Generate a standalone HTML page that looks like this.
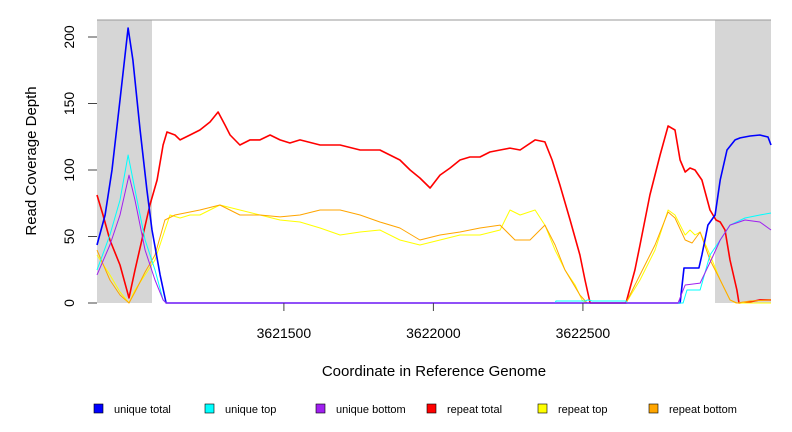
<!DOCTYPE html>
<html><head><meta charset="utf-8"><style>
body{margin:0;background:#fff;}
svg{display:block;font-family:"Liberation Sans",sans-serif;}
</style></head><body>
<svg id="chart" width="792" height="432" viewBox="0 0 792 432">
<rect x="97" y="20" width="55" height="283" fill="#d6d6d6"/>
<rect x="715" y="20" width="56" height="283" fill="#d6d6d6"/>
<line x1="97" y1="20" x2="771" y2="20" stroke="#999" stroke-width="1"/>
<g id="series"></g>
<g id="axes"></g>
<text x="434" y="376" font-size="15" text-anchor="middle">Coordinate in Reference Genome</text>
<text transform="translate(36,161) rotate(-90)" font-size="15" text-anchor="middle">Read Coverage Depth</text>
<g id="legend"></g>
</svg>
<script>
const xTicks=[3621500,3622000,3622500];
const yTicks=[0,50,100,150,200];
const seriesNames=["repeat total","repeat top","repeat bottom","unique total","unique top","unique bottom"];
const legendOrder=["unique total","unique top","unique bottom","repeat total","repeat top","repeat bottom"];
const colors={"unique total":"#0000ff","unique top":"#00ffff","unique bottom":"#a020f0","repeat total":"#ff0000","repeat top":"#ffff00","repeat bottom":"#ffa500"};
// points as [pixel-read x, pixel-read y] converted below into genome coordinate / depth
const blueRaw=[[97,245],[105,215],[112,170],[120,100],[128,28],[133,60],[140,130],[147,190],[152,230],[160,275],[166,303],[680,303],[684,268],[699,268],[702,255],[708,225],[715,215],[720,180],[727,150],[735,140],[740,138],[750,136],[760,135],[768,137],[771,145]];
const cyanRaw=[[97,270],[110,235],[120,200],[128,155],[135,190],[145,240],[155,270],[163,300],[166,303],[555,303],[556,301],[585,301],[588,300],[592,301],[626,301],[627,303],[683,303],[687,290],[700,290],[710,255],[720,240],[730,225],[745,218],[760,215],[771,213]];
const purpleRaw=[[97,275],[110,245],[120,215],[129,175],[135,200],[145,250],[155,280],[163,300],[166,303],[678,303],[685,285],[700,283],[712,258],[720,240],[730,225],[745,220],[760,222],[771,230]];
const redRaw=[[97,195],[103,215],[110,240],[120,265],[129,298],[135,270],[143,235],[150,205],[157,180],[163,145],[167,132],[175,135],[180,140],[190,135],[200,130],[210,122],[218,112],[225,125],[230,135],[240,145],[250,140],[260,140],[270,135],[280,140],[290,143],[300,140],[320,145],[340,145],[360,150],[380,150],[400,160],[410,170],[420,178],[430,188],[440,175],[450,168],[460,160],[470,157],[480,157],[490,152],[500,150],[510,148],[520,150],[535,140],[545,142],[552,160],[560,185],[570,220],[580,255],[585,280],[590,303],[626,303],[635,270],[640,245],[650,195],[660,155],[668,126],[675,130],[680,160],[685,172],[690,168],[695,170],[702,180],[710,210],[716,220],[720,222],[725,230],[730,260],[737,290],[739,303],[750,302],[760,300],[771,300]];
const yellowRaw=[[97,255],[110,275],[120,292],[129,303],[135,290],[145,275],[155,260],[165,230],[170,215],[180,218],[190,215],[200,215],[220,205],[240,210],[260,215],[280,220],[300,222],[320,228],[340,235],[360,232],[380,230],[400,240],[420,245],[440,240],[460,235],[480,235],[500,230],[510,210],[520,215],[535,210],[545,225],[555,250],[565,270],[575,285],[582,300],[586,303],[626,303],[640,280],[655,250],[668,210],[675,215],[685,235],[690,230],[695,235],[700,232],[710,255],[720,280],[730,300],[736,303],[771,303]];
const orangeRaw=[[97,250],[110,280],[120,295],[129,303],[135,292],[145,272],[155,255],[165,220],[175,215],[200,210],[220,205],[240,215],[260,215],[280,217],[300,215],[320,210],[340,210],[360,215],[380,222],[400,228],[420,240],[440,235],[460,232],[480,228],[500,225],[515,240],[530,240],[545,225],[555,245],[565,270],[580,295],[587,303],[626,303],[640,275],[655,245],[668,212],[675,218],[685,240],[692,243],[700,232],[710,260],[720,280],[730,300],[737,303],[750,301],[771,300]];
function toData(raw){return raw.map(p=>[Math.round(3620875+(p[0]-97)*500/149.5),+( (303-p[1])/1.33).toFixed(1)]);}
const uniqueTotal=toData(blueRaw),uniqueTop=toData(cyanRaw),uniqueBottom=toData(purpleRaw);
const repeatTotal=toData(redRaw),repeatTop=toData(yellowRaw),repeatBottom=toData(orangeRaw);
const seriesData={"repeat total":repeatTotal,"repeat top":repeatTop,"repeat bottom":repeatBottom,"unique total":uniqueTotal,"unique top":uniqueTop,"unique bottom":uniqueBottom};
const xMin=3620875,xMax=3623129,yMinPx=303,yScale=1.33;
function X(g){return 97+(g-xMin)*(771-97)/(xMax-xMin);}
function Y(v){return yMinPx-v*yScale;}
const NS="http://www.w3.org/2000/svg";
const sg=document.getElementById('series');
seriesNames.forEach(n=>{
  const pl=document.createElementNS(NS,'polyline');
  pl.setAttribute('points',seriesData[n].map(d=>X(d[0]).toFixed(1)+','+Y(d[1]).toFixed(1)).join(' '));
  pl.setAttribute('fill','none');
  pl.setAttribute('stroke',colors[n]);
  pl.setAttribute('stroke-width',(n.endsWith('total'))?1.6:1);
  pl.setAttribute('stroke-linejoin','round');
  
  
  sg.appendChild(pl);
});
const ax=document.getElementById('axes');
yTicks.forEach(v=>{
  const l=document.createElementNS(NS,'line');
  l.setAttribute('x1',88);l.setAttribute('x2',97);l.setAttribute('y1',Y(v));l.setAttribute('y2',Y(v));
  l.setAttribute('stroke','#444');
  
  
  ax.appendChild(l);
  const t=document.createElementNS(NS,'text');
  t.setAttribute('transform','translate(74,'+Y(v)+') rotate(-90)');
  t.setAttribute('text-anchor','middle');t.setAttribute('font-size','14');
  t.textContent=v;
  
  
  ax.appendChild(t);
});
xTicks.forEach(v=>{
  const l=document.createElementNS(NS,'line');
  l.setAttribute('x1',X(v));l.setAttribute('x2',X(v));l.setAttribute('y1',303);l.setAttribute('y2',311);
  l.setAttribute('stroke','#444');
  
  
  ax.appendChild(l);
  const t=document.createElementNS(NS,'text');
  t.setAttribute('x',X(v));t.setAttribute('y',338);
  t.setAttribute('text-anchor','middle');t.setAttribute('font-size','14');
  t.textContent=v;
  
  
  ax.appendChild(t);
});
const lg=document.getElementById('legend');
const lx=[94,205,316,427,538,649];
legendOrder.forEach((n,i)=>{
  const r=document.createElementNS(NS,'rect');
  r.setAttribute('x',lx[i]);r.setAttribute('y',404);r.setAttribute('width',9);r.setAttribute('height',9);
  r.setAttribute('fill',colors[n]);r.setAttribute('stroke','#000');r.setAttribute('stroke-width',0.6);
  
  
  lg.appendChild(r);
  const t=document.createElementNS(NS,'text');
  t.setAttribute('x',lx[i]+20);t.setAttribute('y',413);t.setAttribute('font-size','11');
  t.textContent=n;
  
  
  lg.appendChild(t);
});
</script>
</body></html>
